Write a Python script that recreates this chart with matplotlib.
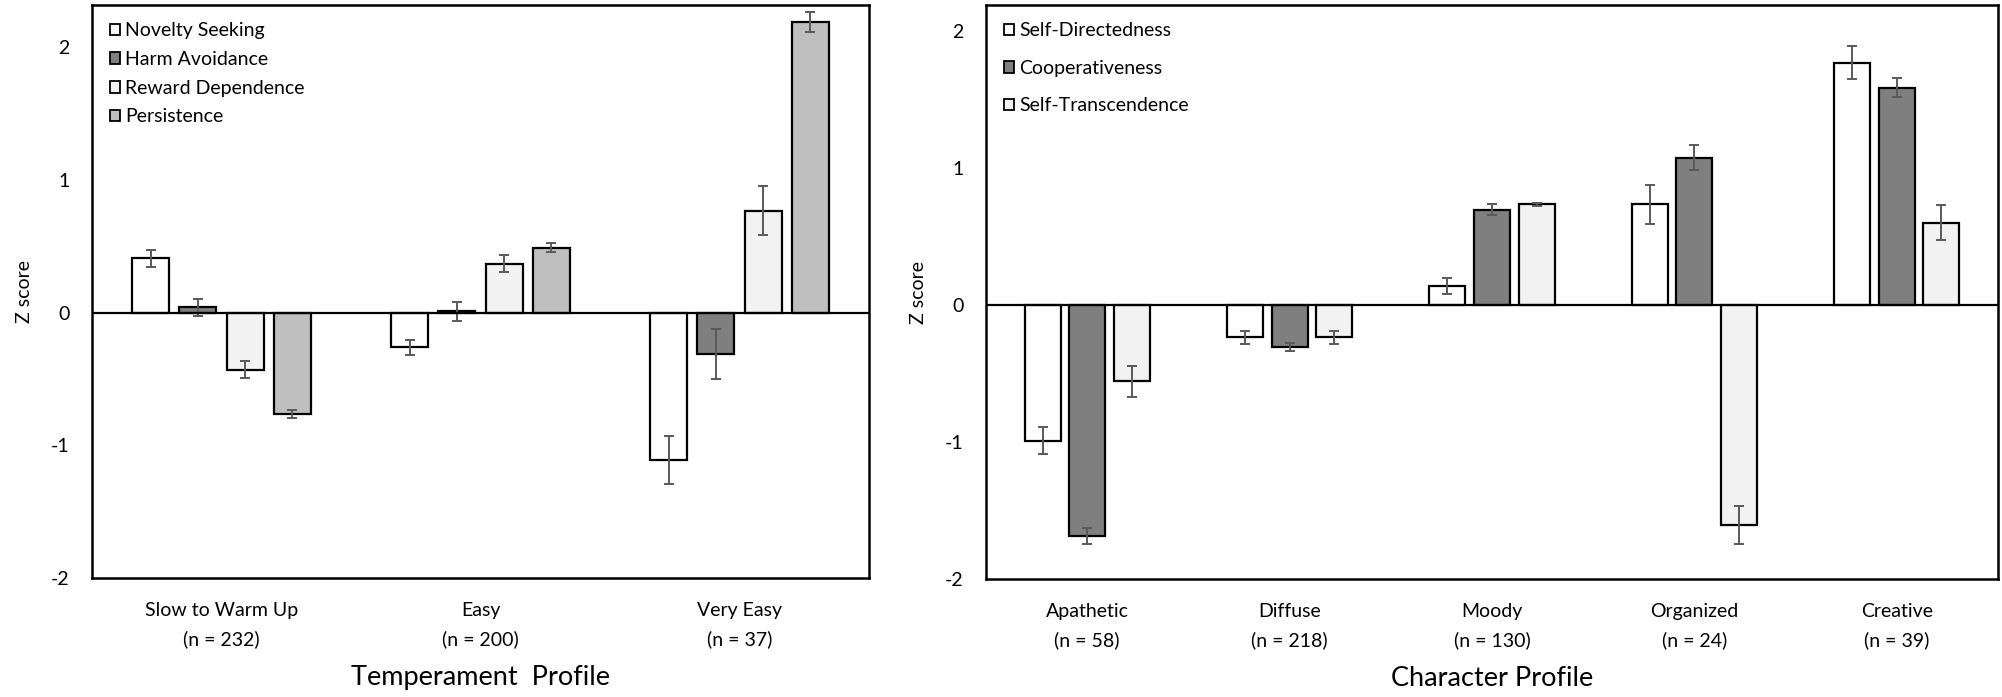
import numpy as np
import matplotlib
matplotlib.use("Agg")
import matplotlib.pyplot as plt

plt.rcParams['font.family'] = ['Lato', 'DejaVu Sans']

# ---- Temperament data ----
temp_groups = ["Slow to Warm Up\n(n = 232)", "Easy\n(n = 200)", "Very Easy\n(n = 37)"]
temp_series = ["Novelty Seeking", "Harm Avoidance", "Reward Dependence", "Persistence"]
novelty_seeking = [0.41, -0.26, -1.11]
harm_avoidance = [0.04, 0.01, -0.31]
reward_dependence = [-0.43, 0.37, 0.77]
persistence = [-0.765, 0.49, 2.19]
novelty_seeking_err = [0.065, 0.058, 0.18]
harm_avoidance_err = [0.062, 0.07, 0.19]
reward_dependence_err = [0.063, 0.063, 0.185]
persistence_err = [0.03, 0.035, 0.075]

# ---- Character data ----
char_groups = ["Apathetic\n(n = 58)", "Diffuse\n(n = 218)", "Moody\n(n = 130)",
               "Organized\n(n = 24)", "Creative\n(n = 39)"]
char_series = ["Self-Directedness", "Cooperativeness", "Self-Transcendence"]
self_directedness = [-0.99, -0.237, 0.14, 0.734, 1.768]
cooperativeness = [-1.685, -0.305, 0.695, 1.076, 1.585]
self_transcendence = [-0.556, -0.237, 0.734, -1.607, 0.602]
self_directedness_err = [0.10, 0.05, 0.06, 0.14, 0.12]
cooperativeness_err = [0.06, 0.03, 0.04, 0.093, 0.07]
self_transcendence_err = [0.113, 0.05, 0.01, 0.14, 0.13]

temp_colors = ["#ffffff", "#7f7f7f", "#f2f2f2", "#bfbfbf"]
char_colors = ["#ffffff", "#7f7f7f", "#f2f2f2"]

fig = plt.figure(figsize=(20.02, 6.97), dpi=100)
W, H = 2002, 697
ax1 = fig.add_axes([92 / W, (H - 578) / H, (869 - 92) / W, (578 - 5) / H])
ax2 = fig.add_axes([986 / W, (H - 579) / H, (1998 - 986) / W, (579 - 5) / H])


def draw(ax, groups, series, vals, errs, colors, width, step, ylim, xlabel, leg_spacing):
    x = np.arange(len(groups))
    n = len(series)
    for i in range(n):
        off = (i - (n - 1) / 2) * step
        ax.bar(x + off, vals[i], width, color=colors[i], edgecolor="black",
               linewidth=1.6, label=series[i], zorder=2)
        ax.errorbar(x + off, vals[i], yerr=errs[i], fmt="none", ecolor="#595959",
                    elinewidth=1.4, capsize=3.5, capthick=1.4, zorder=3)
    ax.axhline(0, color="black", linewidth=1.6, zorder=4)
    ax.set_xlim(-0.5, len(groups) - 0.5)
    ax.set_ylim(*ylim)
    ax.set_yticks([-2, -1, 0, 1, 2])
    ax.set_yticklabels(["-2", "-1", "0", "1", "2"])
    ax.set_xticks(x)
    ax.set_xticklabels(groups, linespacing=1.8)
    ax.tick_params(axis="both", length=0, labelsize=14)
    ax.tick_params(axis="y", pad=16)
    ax.tick_params(axis="x", pad=17)
    for s in ax.spines.values():
        s.set_linewidth(1.8)
        s.set_color("black")
    ax.set_ylabel("Z score", fontsize=14, labelpad=13)
    ax.set_xlabel(xlabel, fontsize=19.5, labelpad=12)
    leg = ax.legend(loc="upper left", frameon=False, fontsize=14,
                    handlelength=0.55, handleheight=0.55, handletextpad=0.25,
                    labelspacing=leg_spacing, borderaxespad=0.5)
    for h in leg.legend_handles:
        h.set_linewidth(1.3)


draw(ax1, temp_groups, temp_series,
     [novelty_seeking, harm_avoidance, reward_dependence, persistence],
     [novelty_seeking_err, harm_avoidance_err, reward_dependence_err, persistence_err],
     temp_colors, 0.143, 0.182, (-2, 2.32), "Temperament  Profile", 0.6)

draw(ax2, char_groups, char_series,
     [self_directedness, cooperativeness, self_transcendence],
     [self_directedness_err, cooperativeness_err, self_transcendence_err],
     char_colors, 0.178, 0.22, (-2, 2.19), "Character Profile", 1.05)

fig.savefig("out.png", dpi=100)
